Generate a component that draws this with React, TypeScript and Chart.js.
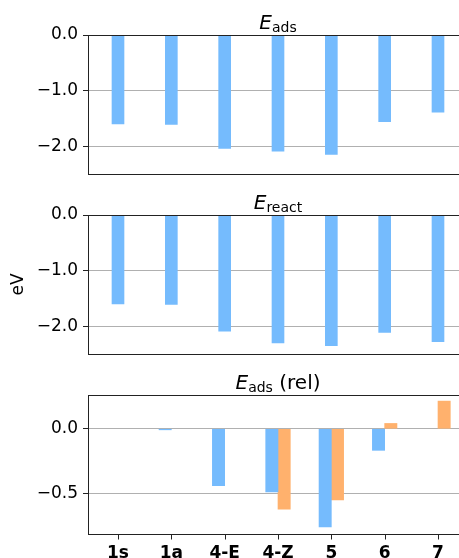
import React, { useEffect, useRef } from 'react';
import { Chart, registerables } from 'chart.js';
Chart.register(...registerables);

const categories = ['1s', '1a', '4-E', '4-Z', '5', '6', '7'];
const eAds = [-1.6, -1.61, -2.04, -2.09, -2.15, -1.56, -1.39];
const eReact = [-1.6, -1.61, -2.09, -2.3, -2.35, -2.11, -2.28];
const relBlue = [0, -0.008, -0.438, -0.487, -0.756, -0.166, 0];
const relOrange = [0, 0, 0, -0.618, -0.548, 0.041, 0.213];
const ticksAbs = [-2, -1, 0];
const ticksRel = [-0.5, 0];

const BLUE = '#75bbfd';
const ORANGE = '#ffb16d';
const FONT = '"DejaVu Sans", sans-serif';

type Part = { t: string; style: 'it' | 'sub' | 'rm' };

const fmt = (v: number) => {
  const s = Math.abs(v).toFixed(1);
  return v < -1e-9 ? '\u2212' + s : s;
};

const toXY = (arr: number[]) => arr.map((y, i) => ({ x: i, y: y === 0 ? null : y }));

interface PanelSpec {
  top: number;
  height: number;
  padBottom: number;
  title: Part[];
  datasets: { data: number[]; color: string }[];
  yMin: number;
  yMax: number;
  yTicks: number[];
  showX: boolean;
  yLabel?: string;
  barThickness: number;
}

const panels: PanelSpec[] = [
  {
    top: 0, height: 180, padBottom: 6,
    title: [{ t: 'E', style: 'it' }, { t: 'ads', style: 'sub' }],
    datasets: [{ data: eAds, color: BLUE }],
    yMin: -2.5, yMax: 0, yTicks: ticksAbs, showX: false, barThickness: 12,
  },
  {
    top: 180, height: 180, padBottom: 6,
    title: [{ t: 'E', style: 'it' }, { t: 'react', style: 'sub' }],
    datasets: [{ data: eReact, color: BLUE }],
    yMin: -2.5, yMax: 0, yTicks: ticksAbs, showX: false, yLabel: 'eV', barThickness: 12,
  },
  {
    top: 360, height: 198, padBottom: 0,
    title: [{ t: 'E', style: 'it' }, { t: 'ads', style: 'sub' }, { t: ' (rel)', style: 'rm' }],
    datasets: [{ data: relBlue, color: BLUE }, { data: relOrange, color: ORANGE }],
    yMin: -0.81, yMax: 0.26, yTicks: ticksRel, showX: true, barThickness: 12.3,
  },
];

const partFont = (p: Part) =>
  p.style === 'it' ? `italic 20px ${FONT}` : p.style === 'sub' ? `14px ${FONT}` : `20px ${FONT}`;

function Panel({ spec }: { spec: PanelSpec }) {
  const ref = useRef<HTMLCanvasElement>(null);
  useEffect(() => {
    const canvas = ref.current!;
    const decor = {
      id: 'decor',
      afterDatasetsDraw(chart: any) {
        const { ctx, chartArea: a } = chart;
        ctx.save();
        ctx.strokeStyle = '#222';
        ctx.lineWidth = 1;
        ctx.strokeRect(Math.round(a.left) + 0.5, Math.round(a.top) + 0.5,
          Math.round(a.right - a.left), Math.round(a.bottom - a.top));
        if (spec.showX) {
          const xs = chart.scales.x;
          const yb = Math.round(a.bottom) + 0.5;
          ctx.beginPath();
          categories.forEach((_, i) => {
            const px = Math.round(xs.getPixelForValue(i)) + 0.5;
            ctx.moveTo(px, yb);
            ctx.lineTo(px, yb + 5);
          });
          ctx.stroke();
        }
        let total = 0;
        for (const p of spec.title) { ctx.font = partFont(p); total += ctx.measureText(p.t).width; }
        let x = (a.left + a.right) / 2 - total / 2;
        const base = a.top - 6;
        ctx.fillStyle = '#000';
        ctx.textBaseline = 'alphabetic';
        ctx.textAlign = 'left';
        for (const p of spec.title) {
          ctx.font = partFont(p);
          ctx.fillText(p.t, x, p.style === 'sub' ? base + 3 : base);
          x += ctx.measureText(p.t).width;
        }
        if (spec.yLabel) {
          ctx.translate(19, (a.top + a.bottom) / 2);
          ctx.rotate(-Math.PI / 2);
          ctx.font = `17px ${FONT}`;
          ctx.textAlign = 'center';
          ctx.textBaseline = 'middle';
          ctx.fillText(spec.yLabel, 0, 0);
        }
        ctx.restore();
      },
    };
    const chart = new Chart(canvas, {
      type: 'bar',
      data: {
        datasets: spec.datasets.map((d) => ({
          data: toXY(d.data) as any,
          backgroundColor: d.color,
          borderWidth: 0,
          barThickness: spec.barThickness,
        })),
      },
      options: {
        animation: false,
        responsive: false,
        devicePixelRatio: 1,
        layout: { padding: { top: 35, bottom: spec.padBottom, left: 0, right: 12 } },
        plugins: { legend: { display: false }, tooltip: { enabled: false }, title: { display: false } },
        scales: {
          x: {
            type: 'linear',
            min: -0.5625,
            max: 6.5625,
            offset: false,
            display: spec.showX,
            afterBuildTicks: (axis: any) => { axis.ticks = categories.map((_, i) => ({ value: i })); },
            afterFit: (axis: any) => {
              if (spec.showX) axis.height = 24;
              axis.paddingLeft = 0; axis.paddingRight = 0;
            },
            grid: { display: false, offset: false, drawOnChartArea: false, drawTicks: false, tickLength: 5 },
            border: { display: false },
            ticks: {
              color: '#000',
              font: { family: FONT, size: 17, weight: 'bold' },
              padding: 9,
              maxRotation: 0,
              autoSkip: false,
              callback: (v: any) => categories[Math.round(Number(v))] ?? '',
            },
          },
          y: {
            type: 'linear',
            min: spec.yMin,
            max: spec.yMax,
            afterBuildTicks: (axis: any) => { axis.ticks = spec.yTicks.map((v) => ({ value: v })); },
            afterFit: (axis: any) => {
              axis.width = 88;
              axis.paddingTop = 0; axis.paddingBottom = 0;
            },
            grid: { color: '#b0b0b0', lineWidth: 1, drawTicks: true, tickLength: 5, tickColor: '#222' },
            border: { display: false },
            ticks: {
              color: '#000',
              font: { family: FONT, size: 17 },
              padding: 5,
              autoSkip: false,
              callback: (v: any) => fmt(Number(v)),
            },
          },
        },
      } as any,
      plugins: [decor],
    });
    return () => chart.destroy();
  }, []);
  return (
    <canvas
      ref={ref}
      width={480}
      height={spec.height}
      style={{ position: 'absolute', left: 0, top: spec.top, width: 480, height: spec.height, display: 'block' }}
    />
  );
}

export default function App() {
  return (
    <div style={{ position: 'fixed', left: 0, top: 0, width: 459, height: 558, overflow: 'hidden', background: '#fff' }}>
      {panels.map((p, i) => <Panel key={i} spec={p} />)}
    </div>
  );
}
